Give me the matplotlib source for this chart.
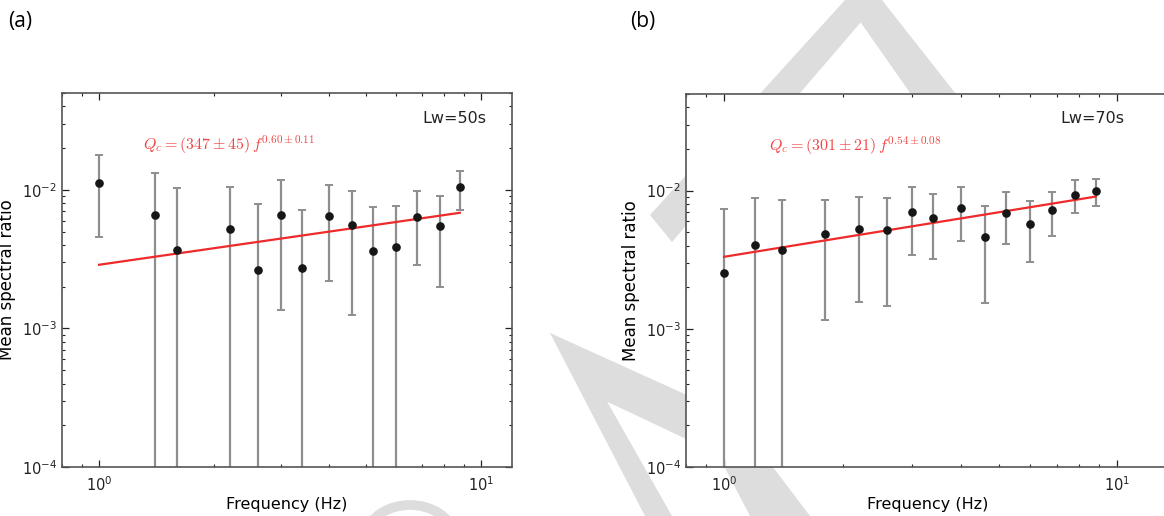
import matplotlib
matplotlib.use("Agg")
import matplotlib.pyplot as plt
from matplotlib.patches import Polygon, Arc
import numpy as np

# panel (a): Lw = 50 s
freq_a = [1.0, 1.4, 1.6, 2.2, 2.6, 3.0, 3.4, 4.0, 4.6, 5.2, 6.0, 6.8, 7.8, 8.8]
ratio_a = [0.0112, 0.0066, 0.00367, 0.00524, 0.00266, 0.00656, 0.00272,
           0.0065, 0.00556, 0.00361, 0.00386, 0.00635, 0.0055, 0.01045]
std_a = [0.0066, 0.0067, 0.0066, 0.0053, 0.0052, 0.0052, 0.0044,
         0.0043, 0.0043, 0.0039, 0.0038, 0.0035, 0.0035, 0.0033]
fit_freq_a = [1.0, 8.8]
fit_ratio_a = [0.00288, 0.00683]

# panel (b): Lw = 70 s
freq_b = [1.0, 1.2, 1.4, 1.8, 2.2, 2.6, 3.0, 3.4, 4.0, 4.6, 5.2, 6.0, 6.8, 7.8, 8.8]
ratio_b = [0.00252, 0.00403, 0.00374, 0.00486, 0.00525, 0.00516, 0.00701, 0.0063,
           0.00745, 0.00463, 0.00693, 0.00574, 0.0072, 0.00935, 0.0100]
std_b = [0.0048, 0.0048, 0.0048, 0.0037, 0.0037, 0.0037, 0.0036, 0.0031,
         0.0031, 0.0031, 0.0028, 0.0027, 0.0025, 0.0025, 0.0022]
fit_freq_b = [1.0, 8.8]
fit_ratio_b = [0.00332, 0.00905]

plt.rcParams['font.family'] = ['DejaVu Sans']
plt.rcParams['mathtext.fontset'] = 'cm'

W, H = 1164, 516
fig = plt.figure(figsize=(W / 100, H / 100), dpi=100)

# light grey watermark behind the axes (pixel coords, y from top)
wm = '#dddddd'
def px(pts):
    return [(x / W, 1 - y / H) for x, y in pts]

shapes = [
    [(845, 0), (882, 0), (1000, 150), (950, 150)],
    [(845, 0), (880, 0), (672, 242), (650, 215)],
    [(550, 333), (720, 410), (720, 455), (593, 395)],
    [(550, 333), (575, 345), (672, 516), (645, 516)],
    [(700, 420), (760, 450), (810, 516), (750, 516)],
]
for s in shapes:
    fig.patches.append(Polygon(px(s), closed=True, transform=fig.transFigure,
                               facecolor=wm, edgecolor='none', zorder=-1))
fig.patches.append(Arc((410 / W, 1 - 540 / H), 90 / W, 70 / H, theta1=20, theta2=160,
                       transform=fig.transFigure, color=wm, lw=7, zorder=-1))

ax1 = fig.add_axes([62 / W, 49 / H, 450 / W, 374 / H])
ax2 = fig.add_axes([686 / W, 49 / H, 484 / W, 373 / H])

panels = [
    (ax1, freq_a, ratio_a, std_a, fit_freq_a, fit_ratio_a, (0.8, 12.05)),
    (ax2, freq_b, ratio_b, std_b, fit_freq_b, fit_ratio_b, (0.8, 13.6)),
]

for ax, f, r, s, ff, fr, xl in panels:
    ax.set_zorder(1)
    ax.set_xscale('log')
    ax.set_yscale('log')
    ax.errorbar(f, r, yerr=s, fmt='none', ecolor='#8e8e8e', elinewidth=1.6,
                capsize=3, capthick=1.4, zorder=2)
    ax.plot(f, r, 'o', color='#161616', ms=5.2, zorder=4)
    ax.plot(ff, fr, color='#ee2a2a', lw=1.6, zorder=3)
    ax.set_xlim(*xl)
    ax.set_ylim(1e-4, 0.05)
    ax.set_xlabel('Frequency (Hz)', fontsize=11.5, labelpad=2)
    ax.set_ylabel('Mean spectral ratio', fontsize=12, labelpad=4)
    ax.tick_params(which='both', direction='in', top=True, right=True,
                   labelsize=10.5, colors='#222222')
    ax.tick_params(which='major', length=5, width=0.9)
    ax.tick_params(which='minor', length=2.5, width=0.8)
    ax.tick_params(axis='x', pad=6)
    for sp in ax.spines.values():
        sp.set_color('#555555')
        sp.set_linewidth(1.2)

ax2.tick_params(which='both', right=False)

ax1.text(0.944, 0.933, 'Lw=50s', transform=ax1.transAxes, ha='right', va='center',
         fontsize=11.5, color='#222222')
ax1.text(0.18, 0.862, r'$Q_c = (347 \pm 45)\, f^{0.60 \pm 0.11}$', transform=ax1.transAxes,
         ha='left', va='center', fontsize=11.5, color='#f24444')
ax2.text(0.905, 0.933, 'Lw=70s', transform=ax2.transAxes, ha='right', va='center',
         fontsize=11.5, color='#222222')
ax2.text(0.172, 0.862, r'$Q_c = (301 \pm 21)\, f^{0.54 \pm 0.08}$', transform=ax2.transAxes,
         ha='left', va='center', fontsize=11.5, color='#f24444')

fig.text(8 / W, 1 - 21 / H, '(a)', fontsize=15, family='Open Sans', va='center', ha='left')
fig.text(630 / W, 1 - 21 / H, '(b)', fontsize=15, family='Open Sans', va='center', ha='left')

fig.savefig('out.png', dpi=100)
